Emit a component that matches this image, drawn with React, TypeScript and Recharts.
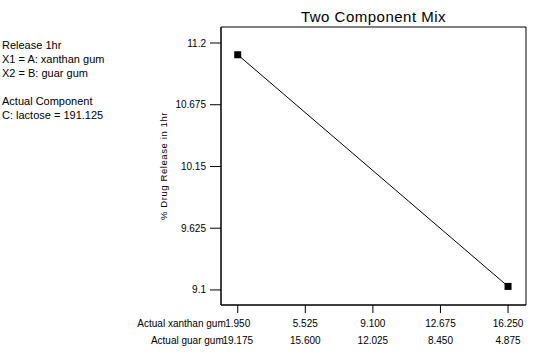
import React from 'react';
import { ComposedChart, Line, XAxis, YAxis, ReferenceArea } from 'recharts';

const xanthanTicks = [1.95, 5.525, 9.1, 12.675, 16.25];
const guarTicks = [19.175, 15.6, 12.025, 8.45, 4.875];
const releaseTicks = [9.1, 9.625, 10.15, 10.675, 11.2];

// observed design points (xanthan gum -> % release in 1hr)
const xanthanPts = [1.95, 16.25];
const releasePts = [11.1, 9.13];

const xDomain: [number, number] = [1.065, 17.2];
const yDomain: [number, number] = [8.972, 11.336];

const notes = ['Release 1hr', 'X1 = A: xanthan gum', 'X2 = B: guar gum', '', 'Actual Component', 'C: lactose = 191.125'];

const FONT = '"Liberation Sans", Arial, sans-serif';

const data = xanthanPts.map((x, i) => ({ x, y: releasePts[i] }));

const XTick = (props: any) => {
  const { x, y, payload, index } = props;
  return (
    <g fontFamily={FONT} fontSize={10} fill="#000">
      <text x={x} y={y + 10} textAnchor="middle">{payload.value.toFixed(3)}</text>
      <text x={x} y={y + 27} textAnchor="middle">{guarTicks[index].toFixed(3)}</text>
      {index === 0 && (
        <>
          <text x={x - 12} y={y + 10} textAnchor="end">Actual xanthan gum</text>
          <text x={x - 14} y={y + 27} textAnchor="end">Actual guar gum</text>
        </>
      )}
    </g>
  );
};

const Square = (props: any) => {
  const { cx, cy, index } = props;
  return <rect key={index} x={cx - 3.5} y={cy - 3.5} width={7} height={7} fill="#000" />;
};

export default function App() {
  return (
    <div style={{ position: 'absolute', left: 0, top: 0, width: 544, height: 355, background: '#fff', fontFamily: FONT }}>
      <div style={{ position: 'absolute', left: 2, top: 38, fontSize: 11, lineHeight: '14px', color: '#000' }}>
        {notes.map((n, i) => (
          <div key={i} style={{ height: 14, whiteSpace: 'pre' }}>{n}</div>
        ))}
      </div>
      <div style={{ position: 'absolute', left: 221, width: 305, top: 8, textAlign: 'center', fontSize: 15, letterSpacing: 0.5, color: '#000' }}>
        Two Component Mix
      </div>
      <ComposedChart width={544} height={355} data={data} margin={{ top: 27, right: 18, bottom: 0, left: 0 }}>
        <XAxis
          type="number"
          dataKey="x"
          domain={xDomain}
          ticks={xanthanTicks}
          height={50}
          stroke="#000"
          tickSize={8}
          tickMargin={4}
          tick={<XTick />}
          allowDataOverflow
        />
        <YAxis
          type="number"
          domain={yDomain}
          ticks={releaseTicks}
          width={221}
          stroke="#000"
          tickSize={11}
          tickMargin={4}
          tick={{ fontSize: 10, fill: '#000', fontFamily: FONT }}
          tickFormatter={(v: number) => String(v)}
          allowDataOverflow
          label={{
            content: (p: any) => {
              const vb = p.viewBox || {};
              const cy = (vb.y ?? 27) + (vb.height ?? 278) / 2;
              return (
                <text x={167} y={cy} transform={`rotate(-90 167 ${cy})`} textAnchor="middle" fontSize={9.5} letterSpacing={0.6} fontFamily={FONT} fill="#000">
                  % Drug Release in 1hr
                </text>
              );
            },
          }}
        />
        <ReferenceArea x1={xDomain[0]} x2={xDomain[1]} y1={yDomain[0]} y2={yDomain[1]} fill="none" stroke="#000" strokeWidth={1} fillOpacity={0} />
        <Line dataKey="y" stroke="#000" strokeWidth={1} dot={<Square />} isAnimationActive={false} />
      </ComposedChart>
    </div>
  );
}
